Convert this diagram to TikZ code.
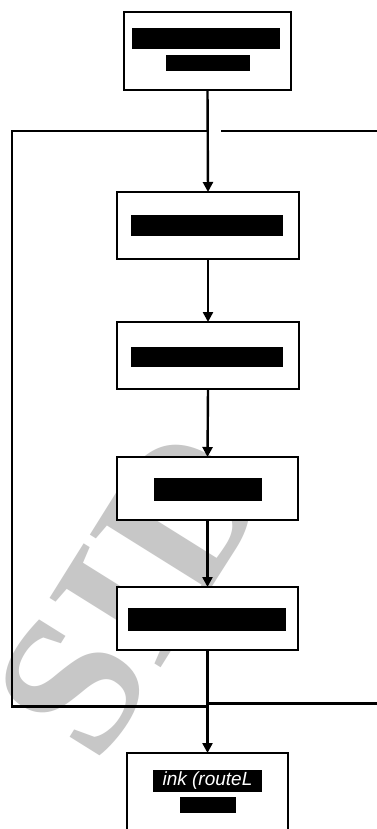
\documentclass[tikz,border=0pt]{standalone}
\usepackage{fontspec}
\setsansfont{Liberation Sans}
\setmainfont{Liberation Serif}
\usetikzlibrary{arrows.meta}
\begin{document}
\begin{tikzpicture}[x=1pt,y=-1pt,
  stepbox/.style={draw=black,line width=2.4pt,fill=white,inner sep=0pt,outer sep=0pt},
  bar/.style={fill=black,inner sep=0pt,outer sep=0pt},
  conn/.style={line width=2.4pt},
  arr/.style={line width=2.4pt,-{Triangle[width=10pt,length=10pt]}},
  wm/.style={text=black!22,font=\rmfamily\bfseries\fontsize{200}{200}\selectfont,inner sep=0pt}
]
\clip (0,0) rectangle (377,829);
\fill[white] (0,0) rectangle (377,829);
% watermark
\node[wm,rotate=58] (wmark) at (132,592) {SID};
% boxes
\node[stepbox,minimum width=167pt,minimum height=78pt] (b1) at (207.5,51) {};
\node[stepbox,minimum width=182pt,minimum height=67pt] (b2) at (208,225.5) {};
\node[stepbox,minimum width=182pt,minimum height=67pt] (b3) at (208,355.5) {};
\node[stepbox,minimum width=181pt,minimum height=63pt] (b4) at (207.5,488.5) {};
\node[stepbox,minimum width=181pt,minimum height=63pt] (b5) at (207.5,618.5) {};
\node[stepbox,minimum width=161pt,minimum height=120pt] (b6) at (207.5,813) {};
% text bars (illegible text)
\node[bar,minimum width=148pt,minimum height=21pt] (t1a) at (206,38.5) {};
\node[bar,minimum width=84pt,minimum height=16pt] (t1b) at (208,63) {};
\node[bar,minimum width=152pt,minimum height=21pt] (t2) at (207,225.5) {};
\node[bar,minimum width=152pt,minimum height=20pt] (t3) at (207,357) {};
\node[bar,minimum width=108pt,minimum height=23pt] (t4) at (208,489.5) {};
\node[bar,minimum width=158pt,minimum height=23pt] (t5) at (207,619.5) {};
\node[bar,minimum width=109pt,minimum height=22pt,text=white,font=\sffamily\itshape\fontsize{19}{19}\selectfont] (t6a) at (207.5,781) {ink (routeL};
\node[bar,minimum width=56pt,minimum height=16pt] (t6b) at (208,805) {};
% coordinates of the loop
\coordinate (tj) at (208,131);
\coordinate (tl) at (12,131);
\coordinate (bl) at (12,706.5);
\coordinate (bj) at (208,706.5);
\coordinate (tra) at (221,131);
\coordinate (trb) at (377,131);
\coordinate (bra) at (208,703.5);
\coordinate (brb) at (377,703.5);
% connectors
\draw[arr] (b1.south) -- (b2.north);
\draw[arr] (b2.south) -- (b3.north);
\draw[arr] (b3.south) -- (b4.north);
\draw[arr] (b4.south) -- (b5.north);
\draw[arr] (b5.south) -- (b6.north);
\draw[conn,line cap=rect] (tj) -- (tl) -- (bl) -- (bj);
\draw[conn] (tra) -- (trb);
\draw[conn] (bra) -- (brb);
\end{tikzpicture}
\end{document}
